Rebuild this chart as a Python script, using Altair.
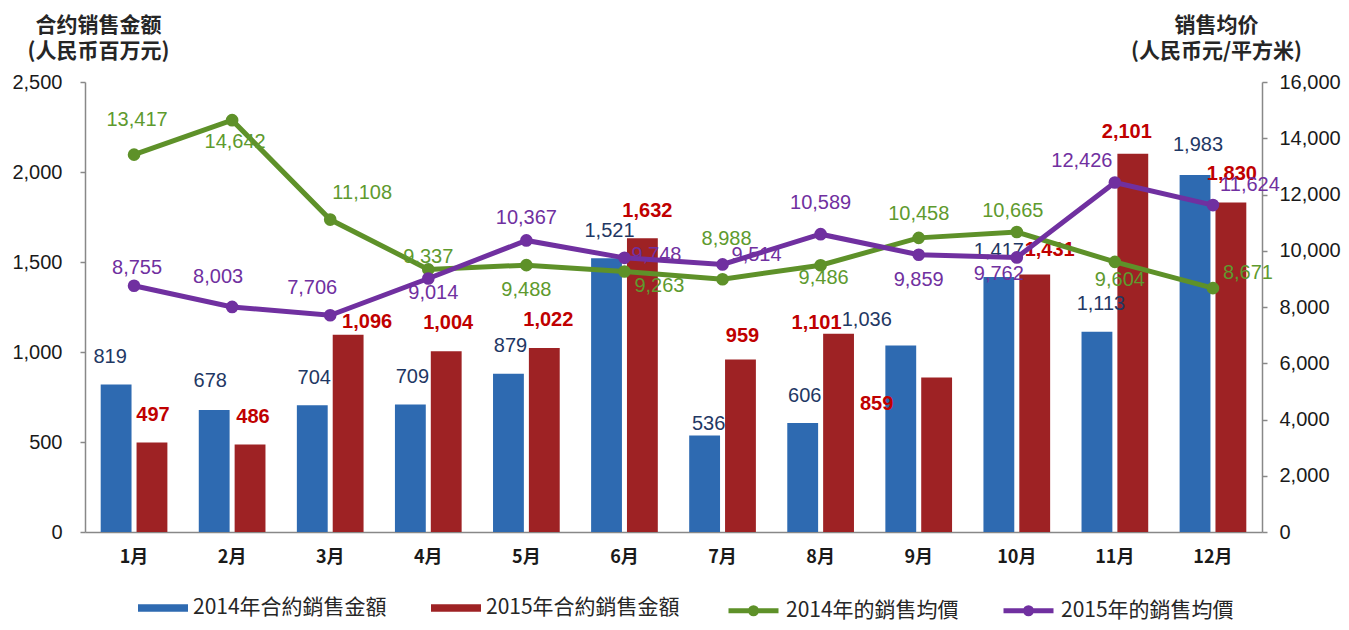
import altair as alt
import pandas as pd

# ---------------- data ----------------
months = ["1月", "2月", "3月", "4月", "5月", "6月", "7月", "8月", "9月", "10月", "11月", "12月"]
sales_2014 = [819, 678, 704, 709, 879, 1521, 536, 606, 1036, 1417, 1113, 1983]
sales_2015 = [497, 486, 1096, 1004, 1022, 1632, 959, 1101, 859, 1431, 2101, 1830]
price_2014 = [13417, 14642, 11108, 9337, 9488, 9263, 8988, 9486, 10458, 10665, 9604, 8671]
price_2015 = [8755, 8003, 7706, 9014, 10367, 9748, 9514, 10589, 9859, 9762, 12426, 11624]

bar_series = ["2014年合約銷售金額", "2015年合約銷售金額"]
line_series = ["2014年的銷售均價", "2015年的銷售均價"]

left_ticks = [0, 500, 1000, 1500, 2000, 2500]
right_ticks = [0, 2000, 4000, 6000, 8000, 10000, 12000, 14000, 16000]

# ---------------- style ----------------
BAR_COLORS = ["#2E6AB1", "#9E2224"]
LINE_COLORS = ["#5E9129", "#7030A0"]
BAR_LABEL_COLORS = ["#1F3864", "#C00000"]
LINE_LABEL_COLORS = ["#5E9A2E", "#7030A0"]
NUM_FONT = "Liberation Sans"
CJK_FONT = "Noto Sans CJK SC"
NUM_FMT = ",.0f"

# label placement (pixel offsets dx, dy from the mark)
BAR_LABEL_OFFSETS = [
    [(-6, -28), (-4, -29), (2, -27), (2, -27), (2, -28), (3, -27),
     (4, -12), (2, -27), (-34, -26), (0, -26), (4, -28), (3, -30)],
    [(1, -28), (3, -28), (19, -13), (2, -28), (4, -28), (5, -27),
     (2, -23), (-22, -11), (-60, 27), (15, -24), (-6, -22), (1, -29)],
]
LINE_LABEL_OFFSETS = [
    [(3, -35), (3, 22), (32, -27), (0, -12), (0, 25), (35, 15),
     (4, -40), (3, 13), (0, -24), (-4, -21), (5, 18), (35, -15)],
    [(3, -18), (-14, -30), (-18, -27), (5, 15), (0, -22), (32, -3),
     (34, -9), (0, -31), (0, 25), (-18, 17), (-33, -22), (37, -20)],
]

# ---------------- tables ----------------
bars_df = pd.DataFrame({
    "month": months * 2,
    "series": [bar_series[0]] * 12 + [bar_series[1]] * 12,
    "value": sales_2014 + sales_2015,
    "idx": list(range(12)) * 2,
})
lines_df = pd.DataFrame({
    "month": months * 2,
    "series": [line_series[0]] * 12 + [line_series[1]] * 12,
    "price": price_2014 + price_2015,
    "idx": list(range(12)) * 2,
})

x_enc = alt.X("month:N", sort=months, title=None,
              scale=alt.Scale(paddingInner=0.32, paddingOuter=0.16),
              axis=alt.Axis(orient="bottom", labelFont=CJK_FONT, labelFontWeight="bold",
                            labelFontSize=18, labelColor="#1a1a1a", ticks=False,
                            labelPadding=16, labelAngle=0, domainColor="#888888",
                            domainWidth=1.5, grid=False, title=None))
xoff_enc = alt.XOffset("series:N", sort=bar_series,
                       scale=alt.Scale(paddingInner=0.14, paddingOuter=0))

y_bar = alt.Y("value:Q", scale=alt.Scale(domain=[0, 2500], nice=False),
              title=["合约销售金额", "(人民币百万元)"],
              axis=alt.Axis(orient="left", values=left_ticks, format=NUM_FMT,
                            tickSize=5, labelPadding=18, labelFontSize=20,
                            labelFont=NUM_FONT, labelColor="#1a1a1a",
                            domainColor="#888888", tickColor="#888888",
                            domainWidth=1.5, tickWidth=1.5, grid=False,
                            title=["合约销售金额", "(人民币百万元)"], titleAngle=0,
                            titleAlign="center", titleBaseline="alphabetic",
                            titleX=13, titleY=-51, titleFont=CJK_FONT,
                            titleFontSize=21, titleFontWeight="bold",
                            titleLineHeight=26, titleColor="#262626"))

y_line = alt.Y("price:Q", scale=alt.Scale(domain=[0, 16000], nice=False),
               title=["销售均价", "(人民币元/平方米)"],
               axis=alt.Axis(orient="right", values=right_ticks, format=NUM_FMT,
                             tickSize=5, labelPadding=12, labelFontSize=20,
                             labelFont=NUM_FONT, labelColor="#1a1a1a",
                             domainColor="#888888", tickColor="#888888",
                             domainWidth=1.5, tickWidth=1.5, grid=False,
                             title=["销售均价", "(人民币元/平方米)"], titleAngle=0,
                             titleAlign="center", titleBaseline="alphabetic",
                             titleX=-46, titleY=-51, titleFont=CJK_FONT,
                             titleFontSize=21, titleFontWeight="bold",
                             titleLineHeight=26, titleColor="#262626"))

bar_legend = alt.Legend(title=None, orient="none", legendX=53, legendY=501,
                        direction="horizontal", symbolType="M-1,-0.15H1V0.15H-1Z",
                        symbolSize=2500, symbolStrokeWidth=0, labelFont="Noto Sans CJK TC",
                        labelFontSize=21, labelColor="#262626", columnPadding=44,
                        labelOffset=5, padding=0, labelLimit=400)
line_legend = alt.Legend(title=None, orient="none", legendX=641, legendY=501,
                         direction="horizontal",
                         symbolType="M-1,0H1M-0.12,0A0.12,0.12 0 1,0 0.12,0A0.12,0.12 0 1,0 -0.12,0",
                         symbolSize=2500, symbolStrokeWidth=5, labelFont="Noto Sans CJK TC",
                         labelFontSize=21, labelColor="#262626", columnPadding=34,
                         labelOffset=5, padding=0, labelLimit=400)

bars = alt.Chart(bars_df).mark_bar().encode(
    x=x_enc, xOffset=xoff_enc, y=y_bar,
    fill=alt.Fill("series:N", sort=bar_series,
                  scale=alt.Scale(domain=bar_series, range=BAR_COLORS),
                  legend=bar_legend),
)


def grouped_text(df, ycol, yenc, offsets_per_series, series_names, colors, bold, use_xoff):
    layers = []
    for s_i, s in enumerate(series_names):
        groups = {}
        for i, off in enumerate(offsets_per_series[s_i]):
            groups.setdefault(tuple(off), []).append(i)
        for (dx, dy), idxs in groups.items():
            enc = dict(x=x_enc, y=yenc, text=alt.Text(f"{ycol}:Q", format=NUM_FMT))
            if use_xoff:
                enc["xOffset"] = xoff_enc
            layers.append(
                alt.Chart(df)
                .transform_filter(alt.datum.series == s)
                .transform_filter(alt.FieldOneOfPredicate(field="idx", oneOf=idxs))
                .mark_text(dx=dx, dy=dy, font=NUM_FONT, fontSize=20,
                           fontWeight="bold" if bold[s_i] else "normal",
                           color=colors[s_i], baseline="middle", align="center")
                .encode(**enc)
            )
    return layers


bar_texts = grouped_text(bars_df, "value", y_bar, BAR_LABEL_OFFSETS,
                         bar_series, BAR_LABEL_COLORS, [False, True], True)

color_enc = alt.Color("series:N", sort=line_series,
                      scale=alt.Scale(domain=line_series, range=LINE_COLORS),
                      legend=line_legend)
lines = alt.Chart(lines_df).mark_line(strokeWidth=5).encode(
    x=x_enc, y=y_line, color=color_enc,
)
points = alt.Chart(lines_df).mark_point(filled=True, size=160, opacity=1).encode(
    x=x_enc, y=y_line, color=color_enc,
)
line_texts = grouped_text(lines_df, "price", y_line, LINE_LABEL_OFFSETS,
                          line_series, LINE_LABEL_COLORS, [False, False], False)

bar_group = alt.layer(bars, *bar_texts)
line_group = alt.layer(lines, points, *line_texts)

chart = (
    alt.layer(bar_group, line_group)
    .resolve_scale(y="independent")
    .properties(width=1177, height=450,
                padding={"left": 77, "top": 74, "right": 79, "bottom": 90},
                autosize=alt.AutoSizeParams(type="none"))
    .configure(background="white")
    .configure_view(stroke=None)
)

chart.save("out.html", embed_options={"renderer": "svg", "actions": False})
